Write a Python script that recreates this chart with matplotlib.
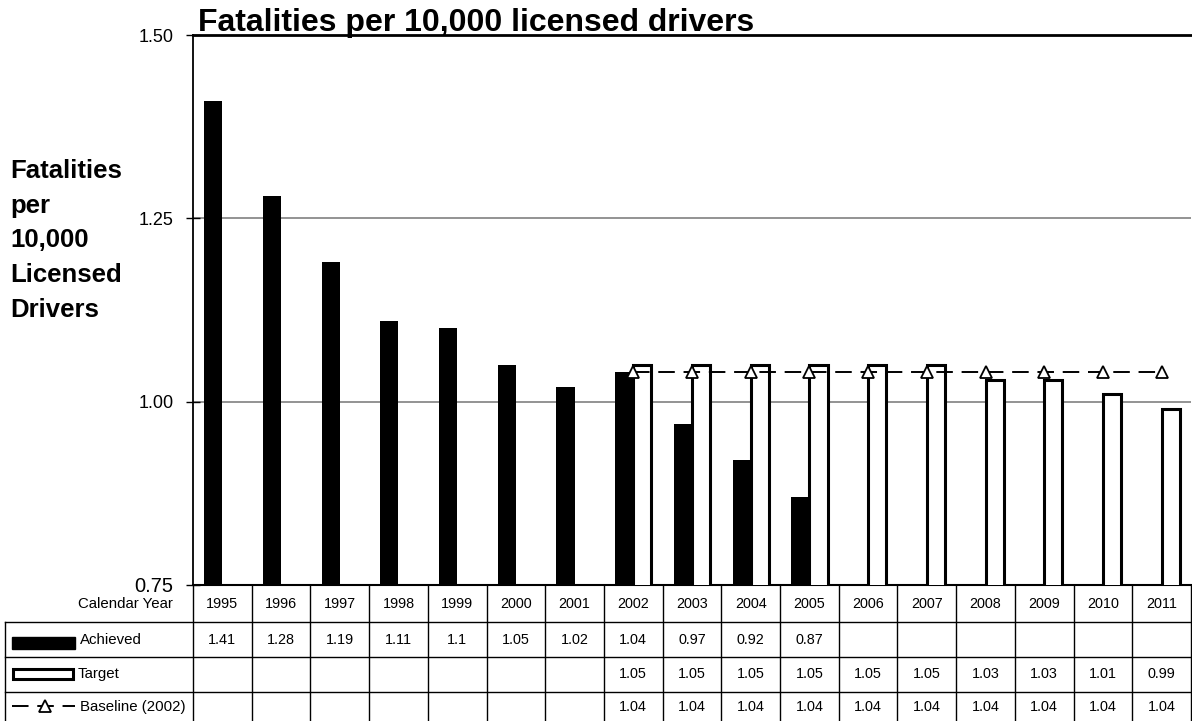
import numpy as np
import matplotlib
matplotlib.use("Agg")
import matplotlib.pyplot as plt
from matplotlib.patches import Rectangle
from matplotlib.lines import Line2D

years = [1995, 1996, 1997, 1998, 1999, 2000, 2001, 2002, 2003, 2004, 2005,
         2006, 2007, 2008, 2009, 2010, 2011]
achieved = [1.41, 1.28, 1.19, 1.11, 1.1, 1.05, 1.02, 1.04, 0.97, 0.92, 0.87]
target_years = [2002, 2003, 2004, 2005, 2006, 2007, 2008, 2009, 2010, 2011]
target = [1.05, 1.05, 1.05, 1.05, 1.05, 1.05, 1.03, 1.03, 1.01, 0.99]
baseline = [1.04, 1.04, 1.04, 1.04, 1.04, 1.04, 1.04, 1.04, 1.04, 1.04]
yticks = [0.75, 1.00, 1.25, 1.50]

plt.rcParams['font.family'] = ['Liberation Sans', 'DejaVu Sans']
cell_fs = 10.4
label_fs = 10.8

W, H = 1192, 721
fig = plt.figure(figsize=(W / 100, H / 100), dpi=100)
# axes box in pixels: left 193, right 1191, top 35, bottom 585
ax = fig.add_axes([193 / W, (H - 585) / H, (1191 - 193) / W, (585 - 35) / H])

x = np.arange(len(years))
xa = x[:len(achieved)]
xt = np.array([years.index(y) for y in target_years])
bw = 0.31
dash = (0, (8.5, 4.5))

ax.bar(xa, achieved, width=-bw, align='edge', color='black', zorder=3)
ax.bar(xt, target, width=bw, align='edge', facecolor='white', edgecolor='black',
       linewidth=2.2, zorder=3)
ax.plot(xt, baseline, color='black', linestyle=dash, linewidth=1.4,
        marker='^', markersize=9, markerfacecolor='white', markeredgecolor='black',
        markeredgewidth=1.3, zorder=4)

ax.set_xlim(-0.5, len(years) - 0.5)
ax.set_ylim(0.75, 1.50)
ax.set_yticks(yticks)
ax.set_yticklabels([f"{t:.2f}" for t in yticks])
ax.tick_params(axis='y', direction='inout', length=10, width=1, labelsize=13, pad=9)
ax.get_yticklabels()[0].set_fontsize(14.5)
ax.set_xticks([])
for t in [1.00, 1.25]:
    ax.axhline(t, color='#808080', linewidth=1.2, zorder=1)

ax.spines['right'].set_visible(False)
ax.spines['left'].set_linewidth(1.3)
ax.spines['bottom'].set_linewidth(1.5)
ax.spines['top'].set_linewidth(2.0)

fig.text(198 / W, 1 - 31 / H, "Fatalities per 10,000 licensed drivers",
         fontsize=23, fontweight='bold', ha='left', va='baseline')
fig.text(10 / W, 1 - 159 / H, "Fatalities\nper\n10,000\nLicensed\nDrivers",
         fontsize=18.5, fontweight='bold', ha='left', va='top', linespacing=1.56)

# data table below the axes
tr = ax.get_xaxis_transform()
def yf(py):
    return (585 - py) / 550.0

row_lines = [622, 657, 692]
bottom_px = 721
for i in range(len(years) + 1):
    ax.add_line(Line2D([i - 0.5, i - 0.5], [0, yf(bottom_px + 5)], transform=tr,
                       color='black', linewidth=1, clip_on=False))
for py in row_lines:
    fig.add_artist(Line2D([5 / W, 1], [1 - py / H, 1 - py / H], color='black',
                          linewidth=1))
fig.add_artist(Line2D([5 / W, 5 / W], [1 - row_lines[0] / H, 0], color='black',
                      linewidth=1))

row_y = [604, 640, 674, 707]
for i, yr in enumerate(years):
    ax.text(i, yf(row_y[0]), str(yr), transform=tr, ha='center', va='center',
            fontsize=cell_fs, clip_on=False)
for i, v in zip(xa, achieved):
    ax.text(i, yf(row_y[1]), f"{v:g}", transform=tr, ha='center', va='center',
            fontsize=cell_fs, clip_on=False)
for i, v in zip(xt, target):
    ax.text(i, yf(row_y[2]), f"{v:g}", transform=tr, ha='center', va='center',
            fontsize=cell_fs, clip_on=False)
for i, v in zip(xt, baseline):
    ax.text(i, yf(row_y[3]), f"{v:g}", transform=tr, ha='center', va='center',
            fontsize=cell_fs, clip_on=False)

fig.text(173 / W, 1 - row_y[0] / H, "Calendar Year", ha='right', va='center',
         fontsize=label_fs)
# legend keys
fig.add_artist(Rectangle((12 / W, 1 - 649 / H), 63 / W, 12 / H, transform=fig.transFigure,
                         facecolor='black', edgecolor='black'))
fig.text(80 / W, 1 - row_y[1] / H, "Achieved", ha='left', va='center',
         fontsize=label_fs)
fig.add_artist(Rectangle((13 / W, 1 - 679 / H), 60 / W, 10 / H, transform=fig.transFigure,
                         facecolor='white', edgecolor='black', linewidth=2.2))
fig.text(78 / W, 1 - row_y[2] / H, "Target", ha='left', va='center',
         fontsize=label_fs)
fig.add_artist(Line2D([12 / W, 75 / W], [1 - 706 / H, 1 - 706 / H], color='black',
                      linestyle=dash, linewidth=1.4))
fig.add_artist(Line2D([45 / W], [1 - 706 / H], marker='^', markersize=9,
                      markerfacecolor='white', markeredgecolor='black',
                      markeredgewidth=1.3))
fig.text(80 / W, 1 - row_y[3] / H, "Baseline (2002)", ha='left', va='center',
         fontsize=label_fs)

fig.savefig("out.png", dpi=100)
